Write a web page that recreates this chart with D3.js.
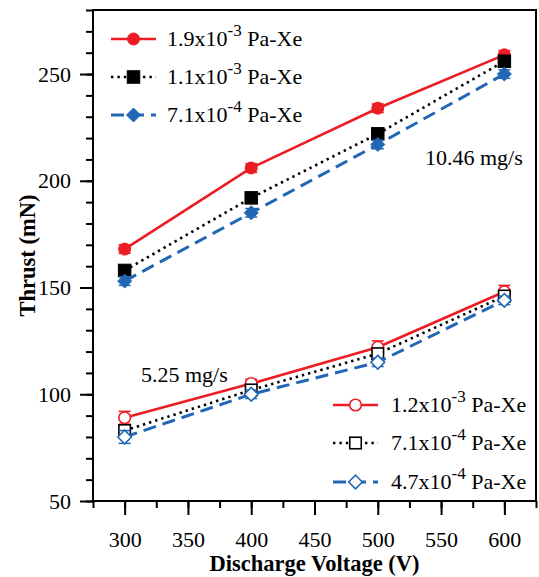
<!DOCTYPE html>
<html>
<head>
<meta charset="utf-8">
<script src="https://cdn.jsdelivr.net/npm/d3@7"></script>
<style>
  html, body { margin: 0; padding: 0; background: #fff; }
  svg { display: block; }
</style>
</head>
<body>
<svg id="chart" width="539" height="577"></svg>
<script>
// Discharge voltage (V)
const voltage = [300, 400, 500, 600];

// Thrust (mN) at 10.46 mg/s anode flow, by background pressure
const thrustHi19 = [168, 206, 234, 259];
const thrustHi11 = [158, 192, 222, 256];
const thrustHi71 = [153, 185, 217, 250];
const errHi19 = [2, 2, 2, 2];
const errHi11 = [2, 2, 2, 2];
const errHi71 = [2, 2, 2, 2];

// Thrust (mN) at 5.25 mg/s anode flow, by background pressure
const thrustLo12 = [89, 105, 122, 148];
const thrustLo71 = [83, 102, 119, 146];
const thrustLo47 = [80, 100, 115, 144];
const errLo12 = [3, 2, 3, 3];
const errLo71 = [2, 2, 2, 2];
const errLo47 = [3, 2, 2, 2];

// Legend labels: mantissa, exponent, suffix
const legendHi = [["1.9x10", "-3", " Pa-Xe"], ["1.1x10", "-3", " Pa-Xe"], ["7.1x10", "-4", " Pa-Xe"]];
const legendLo = [["1.2x10", "-3", " Pa-Xe"], ["7.1x10", "-4", " Pa-Xe"], ["4.7x10", "-4", " Pa-Xe"]];

const xTicks = [300, 350, 400, 450, 500, 550, 600];
const yTicks = [50, 100, 150, 200, 250];

const RED = "#ec1c24", BLUE = "#2167b5", BLACK = "#000";
const SERIF = '"Liberation Serif"';

const svg = d3.select("#chart");
const L = 93, R = 536, T = 10, B = 501;
const x = d3.scaleLinear().domain([275, 625]).range([L, R]);
const y = d3.scaleLinear().domain([50, 280]).range([B, T]);

// Axes: major ticks with labels, minor ticks without
const gx = svg.append("g").attr("transform", `translate(0,${B})`);
gx.call(d3.axisBottom(x).tickValues(d3.range(275, 626, 25)).tickSize(7).tickFormat(""));
gx.call(g => g.append("g").call(d3.axisBottom(x).tickValues(xTicks).tickSize(14).tickPadding(16)));
const gy = svg.append("g").attr("transform", `translate(${L},0)`);
gy.call(d3.axisLeft(y).tickValues(d3.range(50, 281, 10)).tickSize(7).tickFormat(""));
gy.call(g => g.append("g").call(d3.axisLeft(y).tickValues(yTicks).tickSize(13).tickPadding(9)));
svg.selectAll(".domain").remove();
svg.selectAll(".tick line").attr("stroke", "#000").attr("stroke-width", 2);
svg.selectAll(".tick text").attr("font-family", SERIF).attr("font-size", 22).attr("fill", "#000");

// Frame
svg.append("rect").attr("x", L).attr("y", T).attr("width", R - L).attr("height", B - T)
  .attr("fill", "none").attr("stroke", "#000").attr("stroke-width", 2);

function label(xp, yp, size, str) {
  return svg.append("text").attr("x", xp).attr("y", yp)
    .attr("font-family", SERIF).attr("font-size", size).attr("fill", "#000").text(str);
}

// Axis titles
label((L + R) / 2, 571, 22.5, "Discharge Voltage (V)").attr("text-anchor", "middle").attr("font-weight", "bold");
label(0, 0, 22.5, "Thrust (mN)").attr("transform", `translate(35,${(T + B) / 2}) rotate(-90)`)
  .attr("text-anchor", "middle").attr("font-weight", "bold");

const styles = {
  solid: { color: RED, dash: null, width: 2.6 },
  dot: { color: BLACK, dash: "2.4,4", width: 2.6 },
  dash: { color: BLUE, dash: "13,7", width: 3 }
};

function marker(g, kind, filled, color, cx, cy) {
  const fill = filled ? color : "#fff";
  const sw = filled ? 1 : 1.6;
  if (kind === "circle") {
    g.append("circle").attr("cx", cx).attr("cy", cy).attr("r", filled ? 6 : 5.8)
      .attr("fill", fill).attr("stroke", color).attr("stroke-width", sw);
  } else if (kind === "square") {
    const s = filled ? 12.5 : 11.5;
    g.append("rect").attr("x", cx - s / 2).attr("y", cy - s / 2).attr("width", s).attr("height", s)
      .attr("fill", fill).attr("stroke", color).attr("stroke-width", sw);
  } else {
    const r = filled ? 7 : 6.8;
    g.append("path").attr("d", `M${cx},${cy - r}L${cx + r},${cy}L${cx},${cy + r}L${cx - r},${cy}Z`)
      .attr("fill", fill).attr("stroke", color).attr("stroke-width", sw);
  }
}

function series(values, errs, st, kind, filled) {
  const g = svg.append("g");
  const pts = voltage.map((v, i) => [x(v), y(values[i]), errs[i], values[i]]);
  g.append("path").attr("d", d3.line()(pts.map(p => [p[0], p[1]])))
    .attr("fill", "none").attr("stroke", st.color).attr("stroke-width", st.width)
    .attr("stroke-dasharray", st.dash);
  pts.forEach(([px, py, e, v]) => {
    const y0 = y(v - e), y1 = y(v + e);
    g.append("line").attr("x1", px).attr("x2", px).attr("y1", y0).attr("y2", y1)
      .attr("stroke", st.color).attr("stroke-width", 1.5);
    [y0, y1].forEach(yy => g.append("line").attr("x1", px - 6).attr("x2", px + 6).attr("y1", yy).attr("y2", yy)
      .attr("stroke", st.color).attr("stroke-width", 1.5));
  });
  pts.forEach(([px, py]) => marker(g, kind, filled, st.color, px, py));
}

series(thrustHi19, errHi19, styles.solid, "circle", true);
series(thrustHi11, errHi11, styles.dot, "square", true);
series(thrustHi71, errHi71, styles.dash, "diamond", true);
series(thrustLo12, errLo12, styles.solid, "circle", false);
series(thrustLo71, errLo71, styles.dot, "square", false);
series(thrustLo47, errLo47, styles.dash, "diamond", false);

// Legends
function legend(items, x0, x1, xt, rows, filled) {
  const defs = [[styles.solid, "circle"], [styles.dot, "square"], [styles.dash, "diamond"]];
  items.forEach((it, i) => {
    const [st, kind] = defs[i];
    const ry = rows[i];
    svg.append("line").attr("x1", x0).attr("x2", x1).attr("y1", ry).attr("y2", ry)
      .attr("stroke", st.color).attr("stroke-width", st.width).attr("stroke-dasharray", st.dash);
    marker(svg, kind, filled, st.color, (x0 + x1) / 2, ry);
    const t = label(xt, ry + 6.5, 22, null);
    t.append("tspan").text(it[0]);
    t.append("tspan").attr("dy", -10).attr("font-size", 17).text(it[1]);
    t.append("tspan").attr("dy", 10).text(it[2]);
  });
}
legend(legendHi, 111, 156, 167, [39, 77, 115], true);
legend(legendLo, 333, 378, 391, [405, 443, 482], false);

// Flow-rate annotations
label(425, 165, 22, "10.46 mg/s");
label(141, 382, 22, "5.25 mg/s");
</script>
</body>
</html>
